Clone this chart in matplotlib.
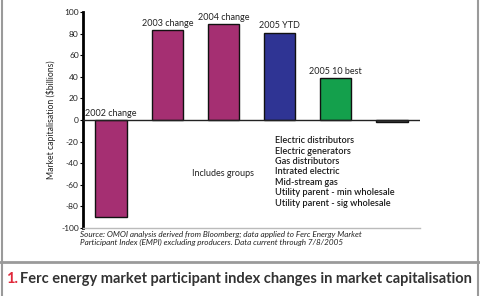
import numpy as np
import matplotlib.pyplot as plt
from matplotlib.lines import Line2D

plt.rcParams['font.family'] = ['Lato', 'DejaVu Sans']

labels = ['2002 change', '2003 change', '2004 change', '2005 YTD', '2005 10 best', '']
values = [-90, 83, 89, 81, 39, -1.5]
colors = ['#a52f72', '#a52f72', '#a52f72', '#2f3494', '#14a04c', '#444444']
groups = ['Electric distributors', 'Electric generators', 'Gas distributors',
          'Intrated electric', 'Mid-stream gas', 'Utility parent - min wholesale',
          'Utility parent - sig wholesale']
yticks = np.arange(-100, 101, 20)

W, H = 480, 296
fig = plt.figure(figsize=(W / 100, H / 100), dpi=100)
fig.patch.set_facecolor('white')

ax = fig.add_axes([83 / W, (H - 228) / H, 337 / W, 216 / H])
x = np.arange(len(values))
ax.bar(x, values, width=0.56, color=colors, edgecolor='#111111', linewidth=1.0, zorder=3)
ax.set_xlim(-0.5, 5.5)
ax.set_ylim(-100, 100)
ax.set_yticks(yticks)
ax.set_yticklabels([str(v) for v in yticks], fontsize=6, color='#222222')
ax.tick_params(axis='y', length=2, width=0.8, pad=1)
ax.set_xticks([])
for s in ['top', 'right']:
    ax.spines[s].set_visible(False)
ax.spines['left'].set_linewidth(2)
ax.spines['bottom'].set_color('#bbbbbb')
ax.spines['bottom'].set_linewidth(1)
ax.axhline(0, color='#222222', linewidth=1, zorder=4)
ax.set_ylabel('Market capitalisation ($billions)', fontsize=6.2, color='#222222', labelpad=4)

for xi, v, lab in zip(x, values, labels):
    if lab:
        ax.text(xi, max(v, 0) + 2, lab, ha='center', va='bottom', fontsize=6.5, color='#222222')

ax.text(2.0, -50, 'Includes groups', ha='center', va='center', fontsize=6.5, color='#222222')
ax.text(2.92, -15, '\n'.join(groups), ha='left', va='top', fontsize=6.6,
        color='#1a1a1a', linespacing=1.2, fontweight='semibold')

fig.text(80 / W, 1 - 231 / H,
         'Source: OMOI analysis derived from Bloomberg; data applied to Ferc Energy Market\n'
         'Participant Index (EMPI) excluding producers. Data current through 7/8/2005',
         fontsize=5.9, style='italic', color='#222222', va='top', ha='left', linespacing=1.05)

# frame lines
gray = '#9a9a9a'
fig.add_artist(Line2D([2 / W, 2 / W], [0, 1], color=gray, linewidth=1.5))
fig.add_artist(Line2D([478 / W, 478 / W], [0, 1], color=gray, linewidth=1.5))
fig.add_artist(Line2D([0, 1], [1 - 262 / H, 1 - 262 / H], color=gray, linewidth=2))

fig.text(6 / W, 1 - 279 / H, '1.', fontsize=10.5, fontweight='bold', color='#e0283a', va='center')
fig.text(20 / W, 1 - 279 / H,
         'Ferc energy market participant index changes in market capitalisation',
         fontsize=10.5, fontweight='bold', color='#333333', va='center')

fig.savefig('out.png', dpi=100)
